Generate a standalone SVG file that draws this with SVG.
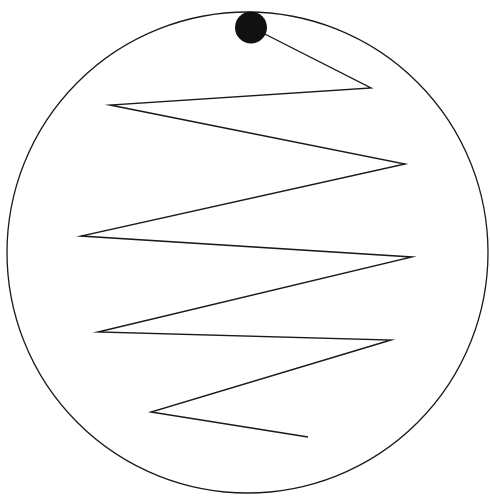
<svg xmlns="http://www.w3.org/2000/svg" width="490" height="498" viewBox="0 0 490 498">
<style>
.outline{fill:none;stroke:#1a1a1a;stroke-width:1.3}
.zig{fill:none;stroke:#1a1a1a;stroke-width:1.4;stroke-linejoin:miter;stroke-miterlimit:20}
.dot{fill:#111}
</style>
<rect width="490" height="498" fill="#fff"/>
<g id="circle"><circle class="outline" cx="247.5" cy="252.5" r="240.5"/></g>
<g id="connectors">
<polyline class="zig" points="251,27 371,88 110,105 405,164 81,236 412,257 98,332 391,340 151,412 308,437"/>
</g>
<g id="ball"><circle class="dot" cx="251" cy="27.5" r="16"/></g>
</svg>
